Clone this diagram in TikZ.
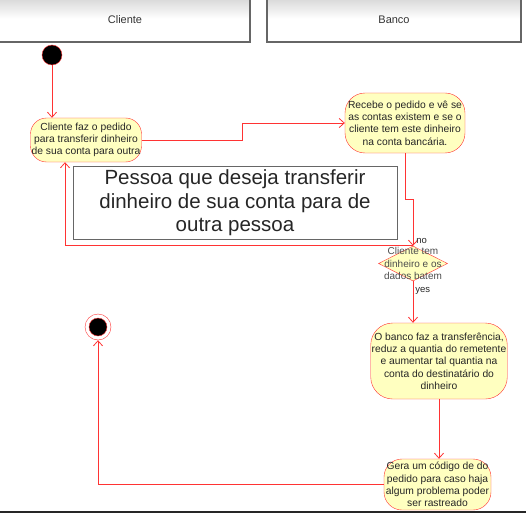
\documentclass[tikz,border=0pt]{standalone}
\usepackage{fontspec}
\setmainfont{Liberation Sans}
\usetikzlibrary{arrows.meta,shapes.geometric,positioning}
\definecolor{umlred}{HTML}{FF3333}
\definecolor{umlfill}{HTML}{FFFFC0}
\tikzset{
  lane/.style={draw=black!60, line width=1.2pt, top color=black!18, bottom color=white,
    middle color=white, font=\fontsize{11}{13}\selectfont, text=black!80},
  activity/.style={draw=umlred, fill=umlfill, align=center, inner sep=1pt,
    font=\fontsize{10.3}{12.3}\selectfont, text=black!85},
  flow/.style={draw=umlred, line width=0.8pt, -{Straight Barb[length=5pt,width=9pt]}},
  branch/.style={font=\fontsize{9.5}{11}\selectfont, text=black!85, inner sep=1pt}
}
\begin{document}
\begin{tikzpicture}[x=1pt,y=-1pt]
  \useasboundingbox (0,0) rectangle (526,513);
  % swimlanes
  \shade[lane] (-5,-5) rectangle (250,42);
  \draw[lane,fill=none] (-5,-5) rectangle (250,42);
  \node[text=black!80,font=\fontsize{11}{13}\selectfont] (cliente) at (125,20) {Cliente};
  \shade[lane] (267,-5) rectangle (521,42);
  \draw[lane,fill=none] (267,-5) rectangle (521,42);
  \node[text=black!80,font=\fontsize{11}{13}\selectfont] (banco) at (394,20) {Banco};

  % nodes
  \node[circle, draw=umlred, fill=black, minimum size=20pt, inner sep=0pt] (start) at (52,55) {};
  \node[activity, rounded corners=16pt, minimum width=111pt, minimum height=44pt] (pedido) at (86,140)
    {Cliente faz o pedido\\para transferir dinheiro\\de sua conta para outra};
  \node[activity, rounded corners=20pt, minimum width=120pt, minimum height=60pt] (recebe) at (405,123)
    {Recebe o pedido e vê se\\as contas existem e se o\\cliente tem este dinheiro\\na conta bancária.};
  \node[draw=black!60, line width=1pt, minimum width=324pt, minimum height=68pt, align=center,
    font=\fontsize{20.5}{23.5}\selectfont, text=black!85] (nota) at (235,203)
    {Pessoa que deseja transferir\\dinheiro de sua conta para de\\outra pessoa};
  \node[diamond, draw=umlred, fill=umlfill, minimum width=69pt, minimum height=35pt, inner sep=0pt,
    label={[align=center, font=\fontsize{10}{12.5}\selectfont, text=black!70]center:Cliente tem\\dinheiro e os\\dados batem}]
    (teste) at (413,263.5) {};
  \node[activity, rounded corners=22pt, minimum width=134pt, minimum height=76pt] (transf) at (439,361)
    {O banco faz a transferência,\\reduz a quantia do remetente\\e aumentar tal quantia na\\conta do destinatário do\\dinheiro};
  \node[activity, rounded corners=18pt, minimum width=107pt, minimum height=51pt] (codigo) at (437.5,484.5)
    {Gera um código de do\\pedido para caso haja\\algum problema poder\\ser rastreado};
  \node[circle, draw=umlred, fill=white, minimum size=26pt, inner sep=0pt,
    path picture={\draw[umlred, fill=black] (path picture bounding box.center) circle (9pt);}] (fim) at (98,327) {};

  % connectors
  \draw[flow] (start) -- (start |- pedido.north);
  \draw[flow] (pedido.east) -- ++(101,0) |- (recebe.west);
  \draw[flow] (recebe.south) -- ++(0,46) -| (teste.north);
  \draw[flow] (teste.north) -| ([xshift=-21pt]pedido.south)
    node[pos=0, branch, anchor=south west, xshift=2pt, yshift=1pt] (nao) {no};
  \draw[flow] (teste.south) -- (teste.south |- transf.north)
    node[pos=0, branch, anchor=north west, xshift=1pt, yshift=-5pt] (sim) {yes};
  \draw[flow] (transf.south) -- (transf.south |- codigo.north);
  \draw[flow] (codigo.west) -| (fim.south);

  \draw[black!85, line width=1.5pt] (0,512) -- (526,512);
\end{tikzpicture}
\end{document}
